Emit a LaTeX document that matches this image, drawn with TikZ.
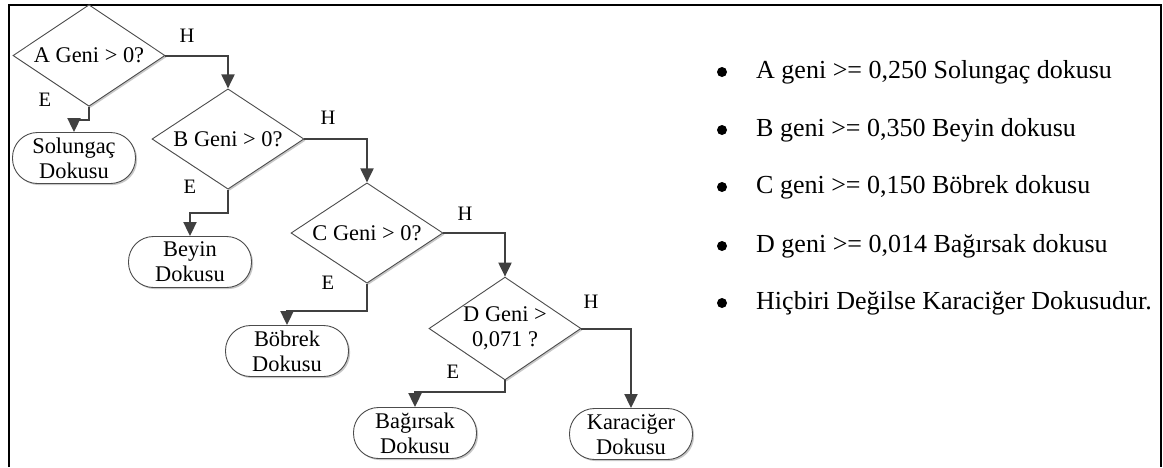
\documentclass[tikz,border=0pt]{standalone}
\usepackage{fontspec}
\setmainfont{Liberation Serif}
\usetikzlibrary{arrows.meta,shapes.geometric,shadows}

\tikzset{
  soft shadow/.style={drop shadow={shadow xshift=1.6pt, shadow yshift=-1.6pt, opacity=0.22, fill=black}},
  decision/.style={diamond, draw=black!70, line width=0.9pt, fill=white,
    minimum width=152pt, minimum height=94pt, inner sep=-6pt,
    align=center, font=\fontsize{22.4}{25}\selectfont, soft shadow},
  terminal/.style={rectangle, rounded corners=25pt, draw=black!70, line width=0.9pt, fill=white,
    minimum width=123pt, minimum height=51pt, inner sep=0pt,
    align=center, font=\fontsize{22.4}{25}\selectfont, soft shadow},
  flow/.style={draw=black!75, line width=2pt, -{Triangle[width=13pt,length=14pt]}},
  branch/.style={inner sep=0pt, font=\fontsize{20.5}{24}\selectfont},
  listitem/.style={inner sep=0pt, anchor=base west, font=\fontsize{26}{30}\selectfont},
  listdot/.style={circle, fill=black, inner sep=0pt, minimum size=10pt},
}

\begin{document}
\begin{tikzpicture}[x=1pt, y=-1pt]
  \useasboundingbox (0,0) rectangle (1163,467);

  % open frame (no bottom rule)
  \draw[line width=2pt] (9,467) -- (9,5) -- (1161,5) -- (1161,467);

  % decisions
  \node[decision] (A) at (89,55.5)  {A Geni > 0?};
  \node[decision] (B) at (228,139)  {B Geni > 0?};
  \node[decision] (C) at (367,233)  {C Geni > 0?};
  \node[decision] (D) at (505,328.5) {D Geni >\\0,071 ?};

  % outcomes
  \node[terminal] (sol) at (74,158)  {Solungaç\\Dokusu};
  \node[terminal] (bey) at (190,262) {Beyin\\Dokusu};
  \node[terminal] (bob) at (287,351) {Böbrek\\Dokusu};
  \node[terminal] (bag) at (415,433) {Bağırsak\\Dokusu};
  \node[terminal] (kar) at (631,434) {Karaciğer\\Dokusu};

  % "H" (no) branches
  \draw[flow] (A.east) -| (B.north);
  \draw[flow] (B.east) -| (C.north);
  \draw[flow] (C.east) -| (D.north);
  \draw[flow] (D.east) -| (kar.north);

  % "E" (yes) branches
  \draw[flow] (A.south) -- ++(0,13) -| (sol.north);
  \draw[flow] (B.south) -- ++(0,23) -| (bey.north);
  \draw[flow] (C.south) -- ++(0,27) -| (bob.north);
  \draw[flow] (D.south) -- ++(0,12) -| (bag.north);

  % branch labels
  \node[branch] (hA) at (187,36)  {H};
  \node[branch] (eA) at (45,100)  {E};
  \node[branch] (hB) at (328,118) {H};
  \node[branch] (eB) at (190,187) {E};
  \node[branch] (hC) at (465,214) {H};
  \node[branch] (eC) at (328,283) {E};
  \node[branch] (hD) at (591,302) {H};
  \node[branch] (eD) at (453,372) {E};

  % thresholds
  \node[listdot] (d1) at (722,72)  {};
  \node[listdot] (d2) at (722,130) {};
  \node[listdot] (d3) at (722,187) {};
  \node[listdot] (d4) at (722,246) {};
  \node[listdot] (d5) at (722,303) {};
  \node[listitem] (t1) at (756,78)  {A geni >= 0,250 Solungaç dokusu};
  \node[listitem] (t2) at (756,136) {B geni >= 0,350 Beyin dokusu};
  \node[listitem] (t3) at (756,193) {C geni >= 0,150 Böbrek dokusu};
  \node[listitem] (t4) at (756,252) {D geni >= 0,014 Bağırsak dokusu};
  \node[listitem] (t5) at (756,309) {Hiçbiri Değilse Karaciğer Dokusudur.};
\end{tikzpicture}
\end{document}
